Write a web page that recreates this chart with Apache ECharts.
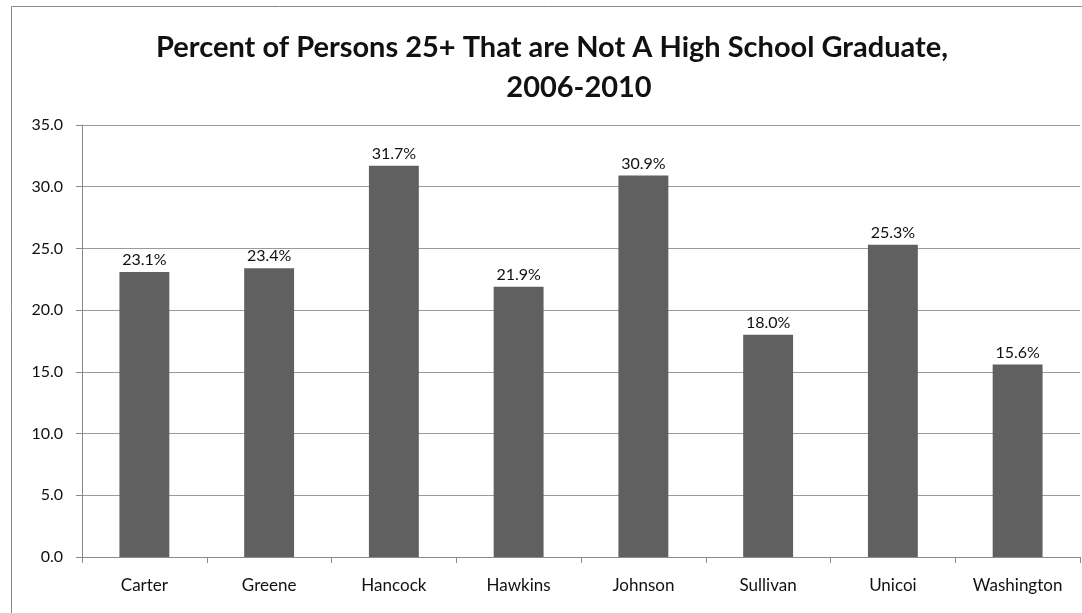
<!DOCTYPE html>
<html>
<head>
<meta charset="utf-8">
<script src="https://cdn.jsdelivr.net/npm/echarts@6/dist/echarts.min.js"></script>
<style>
  html, body { margin: 0; padding: 0; background: #fff; }
  #chart { width: 1082px; height: 613px; }
</style>
</head>
<body>
<div id="chart"></div>
<script>
// Counties and share of adults 25+ without a high school diploma
const counties = ['Carter', 'Greene', 'Hancock', 'Hawkins', 'Johnson', 'Sullivan', 'Unicoi', 'Washington'];
const pctNoDiploma = [23.1, 23.4, 31.7, 21.9, 30.9, 18.0, 25.3, 15.6];
const titleLine1 = 'Percent of Persons 25+ That are Not A High School Graduate,';
const titleLine2 = '2006-2010';

const FONT = 'Lato, "Open Sans", sans-serif';

const chart = echarts.init(document.getElementById('chart'), null, { renderer: 'canvas' });

chart.setOption({
  backgroundColor: '#ffffff',
  animation: false,
  textStyle: { fontFamily: FONT },
  title: [
    {
      text: titleLine1,
      left: 547, top: 28,
      textAlign: 'center',
      textStyle: { fontFamily: FONT, fontWeight: 'bold', fontSize: 29, color: '#111' }
    },
    {
      text: titleLine2,
      left: 574, top: 68,
      textAlign: 'center',
      textStyle: { fontFamily: FONT, fontWeight: 'bold', fontSize: 29, color: '#111' }
    }
  ],
  graphic: [
    {
      type: 'rect',
      shape: { x: 11.5, y: 6.5, width: 1200, height: 700 },
      style: { fill: 'none', stroke: '#8a8a8a', lineWidth: 1 },
      silent: true
    }
  ],
  grid: { left: 82, right: 2, top: 125, bottom: 56, containLabel: false },
  xAxis: {
    type: 'category',
    data: counties,
    axisLine: { show: true, lineStyle: { color: '#8a8a8a', width: 1 } },
    axisTick: { show: true, alignWithLabel: false, length: 6, lineStyle: { color: '#8a8a8a' } },
    axisLabel: { color: '#111', fontSize: 17, fontFamily: FONT, margin: 20 }
  },
  yAxis: {
    type: 'value',
    min: 0, max: 35, interval: 5,
    axisLine: { show: true, lineStyle: { color: '#8a8a8a', width: 1 } },
    axisTick: { show: true, length: 6, lineStyle: { color: '#8a8a8a' } },
    axisLabel: {
      color: '#111', fontSize: 16, fontFamily: FONT, margin: 19,
      formatter: v => v.toFixed(1)
    },
    splitLine: { show: true, lineStyle: { color: '#9a9a9a', width: 1 } }
  },
  series: [
    {
      type: 'bar',
      data: pctNoDiploma,
      barWidth: '40%',
      itemStyle: { color: '#606060' },
      label: {
        show: true,
        position: 'top',
        distance: 4,
        color: '#111',
        fontSize: 16,
        fontFamily: FONT,
        formatter: p => p.value.toFixed(1) + '%'
      }
    }
  ]
});
</script>
</body>
</html>
